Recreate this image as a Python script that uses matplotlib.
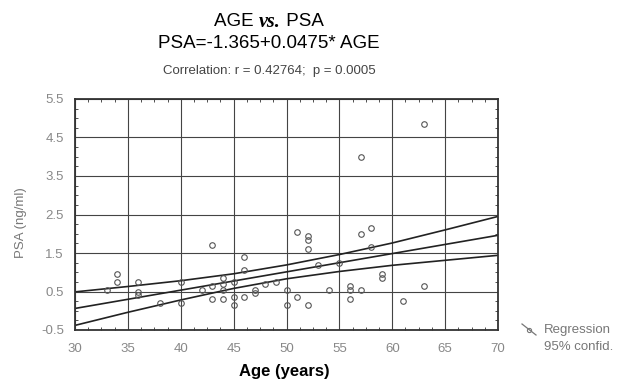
import numpy as np
import matplotlib
matplotlib.use('Agg')
import matplotlib.pyplot as plt
from matplotlib.lines import Line2D
from matplotlib.ticker import MultipleLocator

plt.rcParams['font.family'] = ['Liberation Sans', 'DejaVu Sans']

# --------- data
age = [33, 34, 34, 36, 36, 36, 38, 40, 40, 42, 43, 43, 43, 44, 44, 44, 44,
       45, 45, 45, 46, 46, 46, 47, 47, 48, 49, 50, 50, 51, 51, 52, 52, 52, 52,
       53, 54, 55, 56, 56, 56, 57, 57, 57, 58, 58, 59, 59, 61, 63, 63]
psa = [0.55, 0.95, 0.75, 0.75, 0.5, 0.4, 0.2, 0.75, 0.2, 0.55, 1.7, 0.65, 0.3,
       0.85, 0.7, 0.55, 0.3, 0.75, 0.35, 0.15, 1.4, 1.05, 0.35, 0.55, 0.45,
       0.7, 0.75, 0.55, 0.15, 2.05, 0.35, 1.95, 1.85, 1.6, 0.15, 1.2, 0.55,
       1.25, 0.65, 0.55, 0.3, 4.0, 2.0, 0.55, 2.15, 1.65, 0.95, 0.85, 0.25,
       4.85, 0.65]

# regression from the title
intercept = -1.365
slope = 0.0475

# 95% confidence bands, read at these ages
band_x = [30, 35, 40, 45, 50, 55, 60, 65, 70]
band_upper = [0.49, 0.63, 0.78, 0.96, 1.19, 1.46, 1.76, 2.10, 2.45]
band_lower = [-0.38, -0.04, 0.28, 0.58, 0.83, 1.02, 1.18, 1.31, 1.44]

xticks = [30, 35, 40, 45, 50, 55, 60, 65, 70]
yticks = [-0.5, 0.5, 1.5, 2.5, 3.5, 4.5, 5.5]

W, H = 621, 379
fig = plt.figure(figsize=(W/100, H/100), dpi=100)
ax = fig.add_axes([75/W, 1-330/H, 423/W, 231/H])

lc = '#222222'
ax.grid(True, color='#444444', lw=0.8)
ax.set_axisbelow(True)

xx = np.array(band_x, dtype=float)
ax.plot(xx, intercept + slope*xx, color=lc, lw=1.2)
ax.plot(band_x, band_upper, color=lc, lw=1.2)
ax.plot(band_x, band_lower, color=lc, lw=1.2)

ax.plot(age, psa, 'o', ms=4, mfc='none', mec='#555555', mew=0.8)

ax.set_xlim(30, 70)
ax.set_ylim(-0.5, 5.5)
ax.set_xticks(xticks)
ax.set_yticks(yticks)
ax.set_yticklabels(['%.1f' % v for v in yticks])
ax.xaxis.set_minor_locator(MultipleLocator(1.25))
ax.yaxis.set_minor_locator(MultipleLocator(0.25))
ax.tick_params(which='both', direction='in', top=True, right=True,
               colors='#333333', labelcolor='#888888', labelsize=9.5)
ax.tick_params(which='major', length=0)
ax.tick_params(axis='x', which='major', pad=9)
ax.tick_params(axis='y', which='major', pad=8)
ax.tick_params(which='minor', length=2, width=0.6)
for s in ax.spines.values():
    s.set_color('#333333')
    s.set_linewidth(1.3)

ax.set_xlabel('Age (years)', fontsize=12, fontweight='bold')
ax.xaxis.set_label_coords((284-75)/423, -(364-330)/231)
ax.set_ylabel('PSA (ng/ml)', fontsize=9.5, color='#777777')
ax.yaxis.set_label_coords(-(75-27)/423, (330-223)/231)

# --------- titles
cx = 269/W
parts = [('AGE ', {}), ('vs.', dict(family='Liberation Serif', style='italic', fontweight='bold', fontsize=14.5)),
         (' PSA', {})]
texts = []
for s, kw in parts:
    opts = dict(fontsize=13.5)
    opts.update(kw)
    texts.append(fig.text(0, 1-22/H, s, ha='left', va='center', **opts))
fig.canvas.draw()
r = fig.canvas.get_renderer()
widths = [t.get_window_extent(r).width for t in texts]
x0 = cx*W - sum(widths)/2
for t, w in zip(texts, widths):
    t.set_x(x0/W)
    x0 += w
fig.text(cx, 1-44/H, 'PSA=-1.365+0.0475* AGE', fontsize=13.5, ha='center', va='center')
fig.text(cx, 1-71/H, 'Correlation: r = 0.42764;  p = 0.0005', fontsize=9.5, ha='center', va='center',
         color='#444444')

# --------- legend
fig.add_artist(Line2D([522/W, 536/W], [1-324/H, 1-335/H], transform=fig.transFigure,
                      color='#777777', lw=0.9))
fig.add_artist(Line2D([529/W], [1-329.5/H], transform=fig.transFigure, marker='o', ms=3,
                      mfc='none', mec='#777777', mew=0.8, lw=0))
fig.text(544/W, 1-330/H, 'Regression', fontsize=9.5, color='#777777', va='center', ha='left')
fig.text(544/W, 1-347/H, '95% confid.', fontsize=9.5, color='#777777', va='center', ha='left')

plt.savefig('out.png', dpi=100)
